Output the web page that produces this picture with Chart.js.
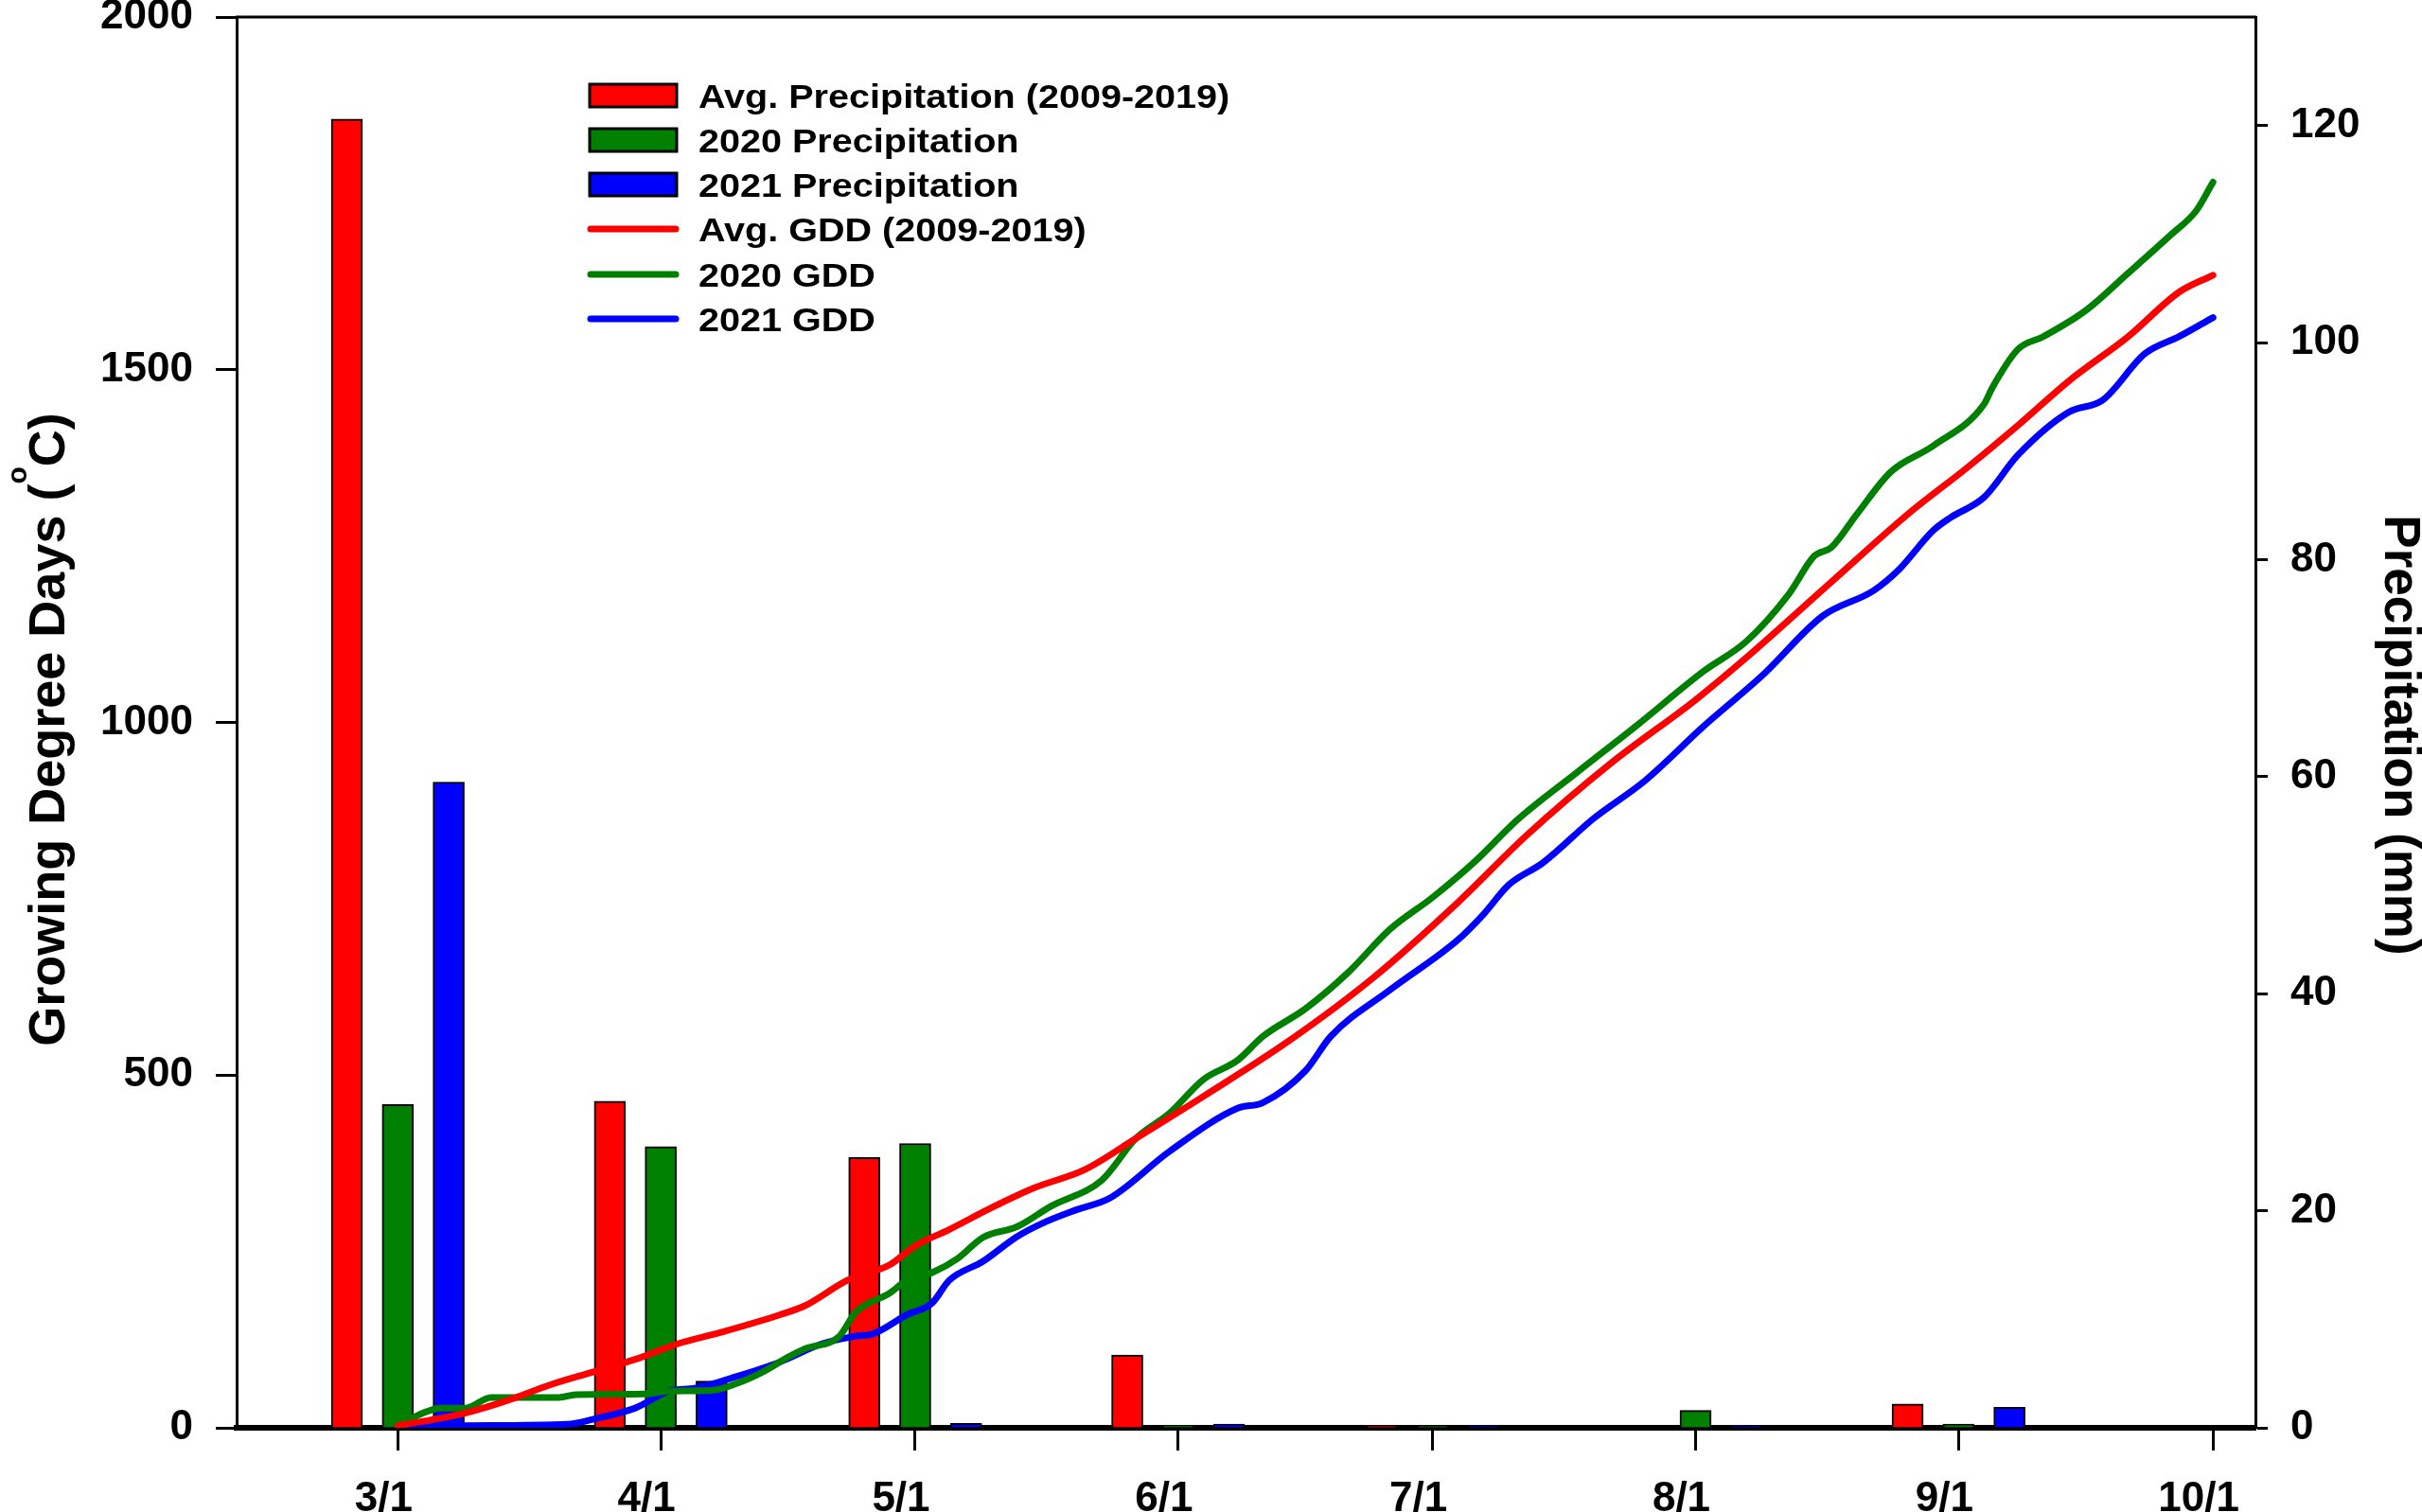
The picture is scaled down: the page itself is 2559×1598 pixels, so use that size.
<!DOCTYPE html>
<html>
<head>
<meta charset="utf-8">
<script src="https://cdn.jsdelivr.net/npm/chart.js@4.4.1/dist/chart.umd.min.js"></script>
<style>
html,body{margin:0;padding:0;background:#fff;overflow:hidden;}
canvas{display:block;}
</style>
</head>
<body>
<canvas id="c" width="2559" height="1598" style="width:2559px;height:1598px"></canvas>
<script>
// ---------- DATA ----------
// x positions are days since March 1
const monthDays   = [0, 31, 61, 92, 122, 153, 184, 214];
const monthLabels = ['3/1', '4/1', '5/1', '6/1', '7/1', '8/1', '9/1', '10/1'];

// monthly precipitation (mm), one bar group per month (Mar..Sep)
const precipMonthDays = [0, 31, 61, 92, 122, 153, 184];
const precipAvg  = [120.6, 30.1, 24.9, 6.7, 0.15, 0.0, 2.2];
const precip2020 = [29.8, 25.9, 26.2, 0.2, 0.15, 1.6, 0.35];
const precip2021 = [59.5, 4.3, 0.4, 0.35, 0.15, 0.15, 1.9];

// cumulative growing degree days (°C)
const gddAvgDays = [0,8,13,18,23,28,33,38,45,48,53,58,61,65,70,75,81,87,95,105,115,125,133,143,153,159,169,178,185,191,197,204,210,214];
const gddAvg     = [3,21,39,61,79,97,119,135,160,173,209,231,258,281,312,340,366,410,470,548,638,745,839,942,1032,1092,1199,1295,1361,1421,1484,1547,1610,1634];

const gdd2020Days = [0,3,5,8,11,19,21,29,32,37,40,43,46,48,52,54,58,60,63,66,69,73,77,83,87,91,95,99,102,107,112,117,122,127,132,139,146,154,159,164,167,169,172,176,181,187,188,191,194,199,204,209,212,214];
const gdd2020     = [3,21,28,28,43,43,47,48,52,53,63,79,100,112,129,164,191,209,220,240,270,285,314,351,410,446,494,521,555,594,645,707,752,803,862,929,995,1073,1115,1182,1236,1248,1295,1355,1392,1451,1475,1529,1547,1584,1637,1691,1725,1766];

const gdd2021Days = [0,8,20,23,28,32,35,40,45,50,54,56,60,63,65,69,73,76,80,84,91,99,102,107,110,117,125,128,131,135,141,147,154,161,168,174,177,181,183,187,191,197,201,206,210,214];
const gdd2021     = [0,3,5,12,28,52,56,73,93,119,130,133,160,177,209,236,271,290,309,326,392,453,461,506,555,621,692,728,770,801,864,917,995,1068,1151,1187,1217,1272,1290,1319,1379,1440,1457,1523,1547,1574];

// ---------- STYLE ----------
const FONT = "'Liberation Sans', Arial, Helvetica, sans-serif";
const RED = '#ff0000', GREEN = '#008000', BLUE = '#0000ff';
const BAR_OFFSET_DAYS = 6;

Chart.defaults.font.family = FONT;
Chart.defaults.font.weight = 'bold';
Chart.defaults.color = '#000';

function pts(xs, ys) { return xs.map((x, i) => ({ x: x, y: ys[i] })); }
function barPts(xs, ys, off) { return xs.map((x, i) => ({ x: x + off, y: ys[i] })); }

function barDs(label, data, color) {
  return {
    type: 'bar', label: label, data: data,
    backgroundColor: color, borderColor: '#000', borderWidth: 2,
    barThickness: 33, grouped: false,
    xAxisID: 'x', yAxisID: 'y1', order: 2
  };
}
function lineDs(label, data, color) {
  return {
    type: 'line', label: label, data: data,
    borderColor: color, backgroundColor: color, borderWidth: 7,
    pointRadius: 0, fill: false, cubicInterpolationMode: 'monotone',
    borderCapStyle: 'round', borderJoinStyle: 'round',
    xAxisID: 'x', yAxisID: 'y', order: 1
  };
}

const framePlugin = {
  id: 'frame',
  afterDraw(chart) {
    const ctx = chart.ctx, a = chart.chartArea;
    ctx.save();
    // top frame line
    ctx.strokeStyle = '#000';
    ctx.lineWidth = 3;
    ctx.beginPath();
    ctx.moveTo(a.left - 1, a.top);
    ctx.lineTo(a.right + 1, a.top);
    ctx.stroke();

    // legend
    const ds = chart.data.datasets;
    const rows = [101, 148, 195, 242, 290, 337];
    const sx0 = 623, sx1 = 715, tx = 738;
    ctx.font = 'bold 35px ' + FONT;
    ctx.textAlign = 'left';
    ctx.textBaseline = 'alphabetic';
    ds.forEach((d, i) => {
      const cy = rows[i];
      if (d.type === 'bar') {
        ctx.fillStyle = d.backgroundColor;
        ctx.fillRect(sx0, cy - 12, sx1 - sx0, 24);
        ctx.lineWidth = 3;
        ctx.strokeStyle = '#000';
        ctx.strokeRect(sx0, cy - 12, sx1 - sx0, 24);
      } else {
        ctx.strokeStyle = d.borderColor;
        ctx.lineWidth = 7;
        ctx.lineCap = 'round';
        ctx.beginPath();
        ctx.moveTo(sx0 + 1, cy);
        ctx.lineTo(sx1 - 1, cy);
        ctx.stroke();
        ctx.lineCap = 'butt';
      }
      ctx.save();
      ctx.translate(tx, cy + 12.5);
      ctx.scale(1.13, 1);
      ctx.fillStyle = '#000';
      ctx.fillText(d.label, 0, 0);
      ctx.restore();
    });

    // left axis title with superscript o
    ctx.save();
    ctx.translate(68, 771);
    ctx.rotate(-Math.PI / 2);
    ctx.fillStyle = '#000';
    ctx.textBaseline = 'alphabetic';
    const big = 'bold 54px ' + FONT, small = 'bold 30px ' + FONT;
    const p1 = 'Growing Degree Days (', p2 = 'o', p3 = 'C)';
    ctx.font = big; const w1 = ctx.measureText(p1).width, w3 = ctx.measureText(p3).width;
    ctx.font = small; const w2 = ctx.measureText(p2).width;
    let x = -(w1 + w2 + w3) / 2;
    ctx.font = big; ctx.textAlign = 'left'; ctx.fillText(p1, x, 0); x += w1;
    ctx.font = small; ctx.fillText(p2, x, -40); x += w2;
    ctx.font = big; ctx.fillText(p3, x, 0);
    ctx.restore();

    // right axis title
    ctx.save();
    ctx.translate(2520, 777);
    ctx.rotate(Math.PI / 2);
    ctx.fillStyle = '#000';
    ctx.font = 'bold 53px ' + FONT;
    ctx.textAlign = 'center';
    ctx.textBaseline = 'alphabetic';
    ctx.fillText('Precipitation (mm)', 0, 0);
    ctx.restore();

    ctx.restore();
  }
};

new Chart(document.getElementById('c'), {
  type: 'bar',
  data: {
    datasets: [
      barDs('Avg. Precipitation (2009-2019)', barPts(precipMonthDays, precipAvg, -BAR_OFFSET_DAYS), RED),
      barDs('2020 Precipitation', barPts(precipMonthDays, precip2020, 0), GREEN),
      barDs('2021 Precipitation', barPts(precipMonthDays, precip2021, BAR_OFFSET_DAYS), BLUE),
      lineDs('Avg. GDD (2009-2019)', pts(gddAvgDays, gddAvg), RED),
      lineDs('2020 GDD', pts(gdd2020Days, gdd2020), GREEN),
      lineDs('2021 GDD', pts(gdd2021Days, gdd2021), BLUE)
    ]
  },
  options: {
    responsive: false,
    maintainAspectRatio: false,
    devicePixelRatio: 1,
    animation: false,
    layout: { padding: { top: 18, left: 0, right: 0, bottom: 0 } },
    plugins: { legend: { display: false }, tooltip: { enabled: false }, title: { display: false } },
    scales: {
      x: {
        type: 'linear', position: 'bottom', min: -19, max: 219,
        offset: false,
        afterBuildTicks: s => { s.ticks = monthDays.map(v => ({ value: v })); },
        afterFit: s => { s.height = 89; s.paddingLeft = 0; s.paddingRight = 0; },
        ticks: {
          autoSkip: false, maxRotation: 0, minRotation: 0,
          padding: 25, labelOffset: -15,
          font: { size: 44, weight: 'bold' }, color: '#000',
          callback: v => { const i = monthDays.indexOf(v); return i >= 0 ? monthLabels[i] : ''; }
        },
        grid: { offset: false, drawOnChartArea: false, drawTicks: true, tickLength: 24, tickWidth: 3, tickColor: '#000' },
        border: { display: true, color: '#000', width: 6 }
      },
      y: {
        type: 'linear', position: 'left', min: 0, max: 2000,
        afterFit: s => { s.width = 250; s.paddingTop = 0; s.paddingBottom = 0; },
        ticks: { stepSize: 500, padding: 24, font: { size: 44, weight: 'bold' }, color: '#000', callback: v => String(v) },
        grid: { drawOnChartArea: false, drawTicks: true, tickLength: 22, tickWidth: 3, tickColor: '#000' },
        border: { display: true, color: '#000', width: 3 }
      },
      y1: {
        type: 'linear', position: 'right', min: 0, max: 130,
        afterBuildTicks: s => { s.ticks = s.ticks.filter(t => t.value <= 120); },
        afterFit: s => { s.width = 176; s.paddingTop = 0; s.paddingBottom = 0; },
        ticks: { stepSize: 20, padding: 24, font: { size: 44, weight: 'bold' }, color: '#000', callback: v => String(v) },
        grid: { drawOnChartArea: false, drawTicks: true, tickLength: 13, tickWidth: 3, tickColor: '#000' },
        border: { display: true, color: '#000', width: 3 }
      }
    }
  },
  plugins: [framePlugin]
});
</script>
</body>
</html>
